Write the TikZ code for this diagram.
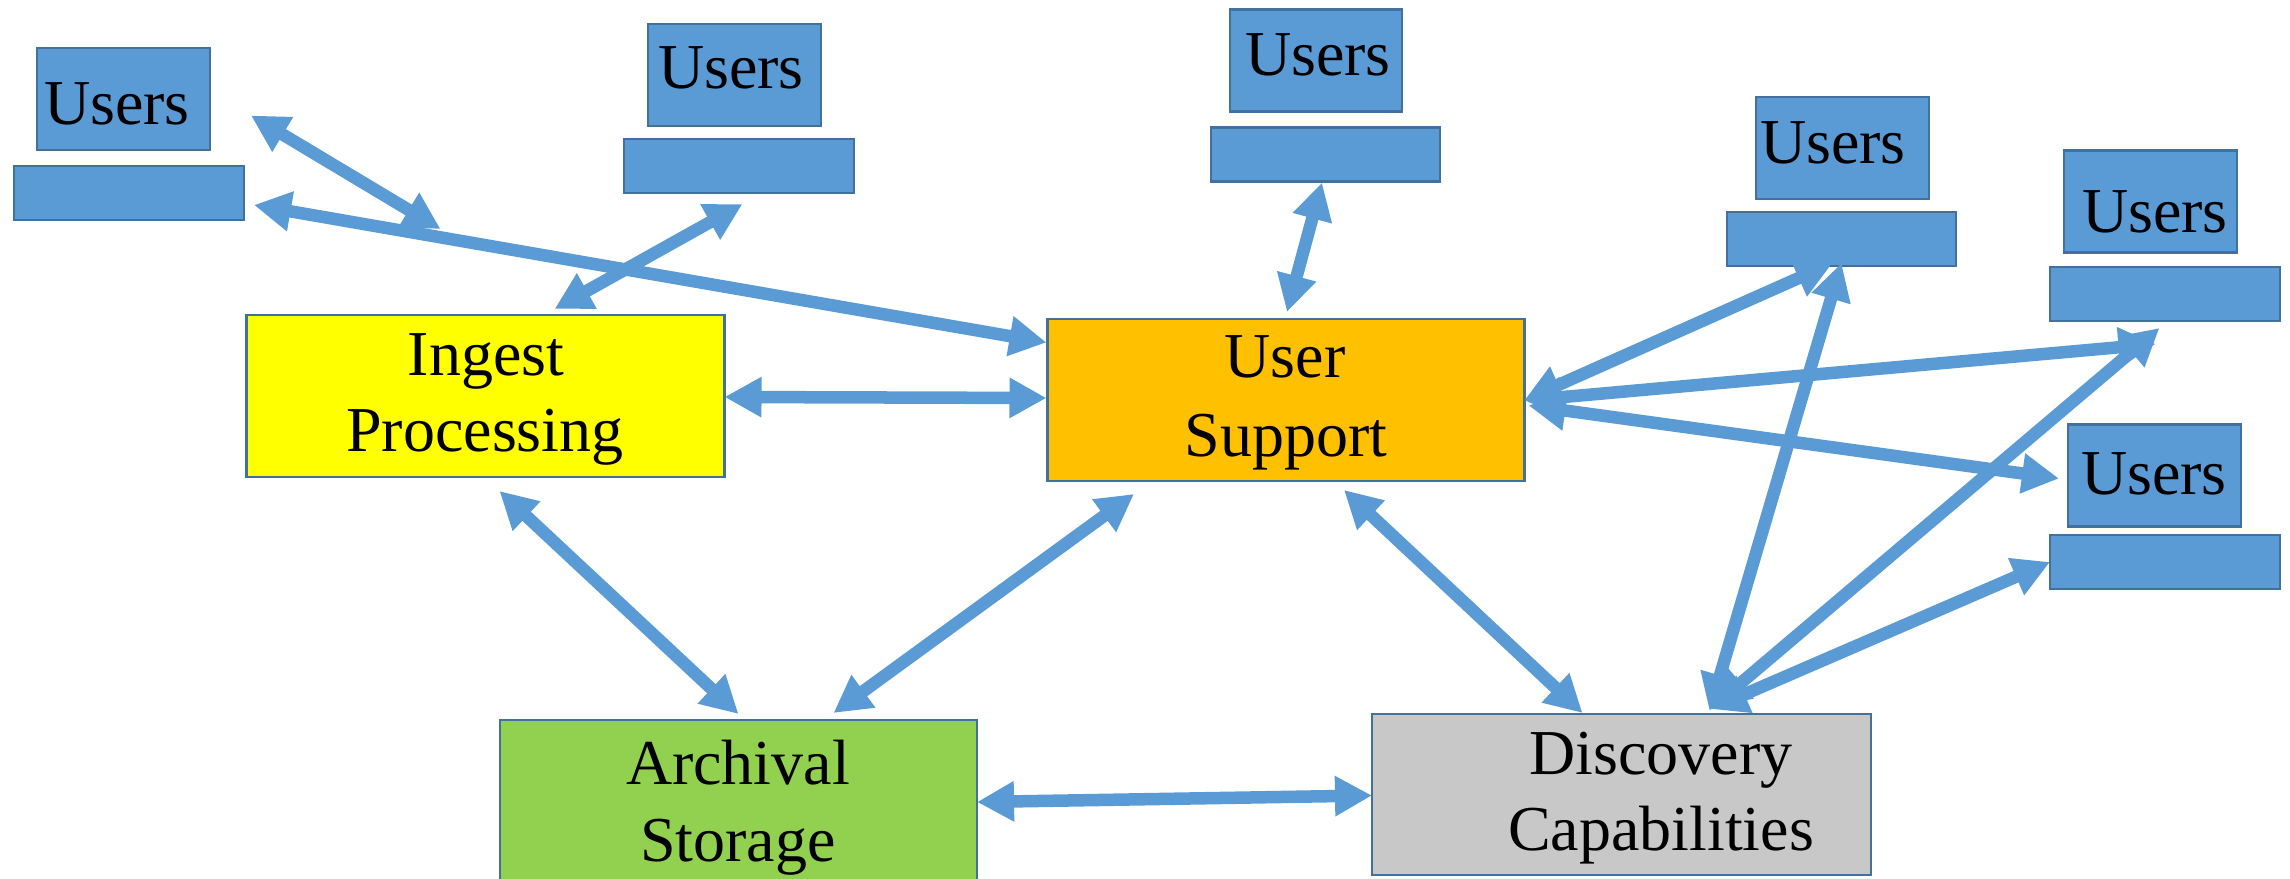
\documentclass[tikz,border=0pt]{standalone}
\usepackage{fontspec}
\setmainfont{Liberation Serif}
\usetikzlibrary{arrows.meta,calc}
\definecolor{ublue}{HTML}{5B9BD5}
\definecolor{uedge}{HTML}{41719C}
\definecolor{ugreen}{HTML}{92D050}
\definecolor{uorange}{HTML}{FFC000}
\definecolor{ugray}{HTML}{C8C8C8}
\definecolor{uyellow}{HTML}{FFFF00}
\tikzset{
  boxbase/.style 2 args={draw=uedge,line width=0.8pt,inner sep=0pt,outer sep=0pt,
    minimum width=#1*0.01cm,minimum height=#2*0.01cm},
  userbox/.style 2 args={boxbase={#1}{#2},fill=ublue},
  txt/.style={inner sep=0pt,anchor=base,font=\fontsize{18.2pt}{22pt}\selectfont,text=black},
  link/.style={draw=ublue,line width=0.125cm,
    {Triangle[length=0.37cm,width=0.38cm]}-{Triangle[length=0.37cm,width=0.38cm]}}
}
\begin{document}
\begin{tikzpicture}[x=0.01cm,y=-0.01cm]
\useasboundingbox (0,0) rectangle (2290,879);
\clip (0,0) rectangle (2290,879);
% user terminals
\node[userbox={173}{102}] (u1) at (123.5,99) {};
\node[userbox={230}{54}] (u1b) at (129,193) {};
\node[userbox={173}{102}] (u2) at (734.5,75) {};
\node[userbox={230}{54}] (u2b) at (739,166) {};
\node[userbox={172}{102}] (u3) at (1316,60.5) {};
\node[userbox={229}{54}] (u3b) at (1325.5,154.5) {};
\node[userbox={173}{102}] (u4) at (1842.5,148) {};
\node[userbox={229}{54}] (u4b) at (1841.5,239) {};
\node[userbox={173}{102}] (u5) at (2150.5,201.5) {};
\node[userbox={230}{54}] (u5b) at (2165,294) {};
\node[userbox={173}{102}] (u6) at (2154.5,475.5) {};
\node[userbox={230}{54}] (u6b) at (2165,562) {};
% functions
\node[boxbase={478}{162},fill=uyellow] (ingest) at (485.5,396) {};
\node[boxbase={477}{162},fill=uorange] (support) at (1286,400) {};
\node[boxbase={477}{206},fill=ugreen] (archive) at (738.5,823) {};
\node[boxbase={499}{161},fill=ugray] (discovery) at (1621.5,794.5) {};
% labels
\node[txt] at (117,125) {Users};
\node[txt] at (731,89) {Users};
\node[txt] at (1318,76) {Users};
\node[txt] at (1833,164) {Users};
\node[txt] at (2155,232) {Users};
\node[txt] at (2154,494) {Users};
\node[txt] at (486,375) {Ingest};
\node[txt] at (485,452) {Processing};
\node[txt] at (1285,377) {User};
\node[txt] at (1286,456) {Support};
\node[txt] at (738,784) {Archival};
\node[txt] at (738,861) {Storage};
\node[txt] at (1661,774) {Discovery};
\node[txt] at (1661,850) {Capabilities};
% connectors
\draw[link] ($(u1.east)+(41,16.5)$) -- ($(ingest.north)+(-45,-86)$);
\draw[link] ($(u1b.east)+(10,12)$) -- ($(support.west)+(-1,-57.5)$);
\draw[link] ($(u2b.south)+(3.5,11)$) -- ($(ingest.north)+(69,-6)$);
\draw[link] ($(ingest.east)+(0,1)$) -- ($(support.west)+(-1,-2)$);
\draw[link] ($(u3b.south)+(-3.5,1)$) -- ($(support.north)+(1,-7)$);
\draw[link] (support.east) -- ($(u4b.south)+(-9,-3)$);
\draw[link] ($(u4b.south)+(0,-3)$) -- ($(discovery.north)+(88,-3)$);
\draw[link] ($(support.east)+(0,0.5)$) -- ($(u5b.south)+(-9.5,23)$);
\draw[link] ($(support.east)+(4,5.5)$) -- ($(u6.west)+(-9,3)$);
\draw[link] ($(u5b.south)+(-5.5,7)$) -- ($(discovery.north)+(91,-7)$);
\draw[link] (u6b.west) -- ($(discovery.north)+(89,-5)$);
\draw[link] ($(ingest.south)+(14,14)$) -- ($(archive.north)+(0,-6)$);
\draw[link] ($(support.south)+(-152,13)$) -- ($(archive.north)+(95,-7)$);
\draw[link] ($(support.south)+(58,9)$) -- ($(discovery.north)+(-39,-1)$);
\draw[link] ($(archive.east)+(0,-21)$) -- ($(discovery.west)+(0,1)$);
\end{tikzpicture}
\end{document}
